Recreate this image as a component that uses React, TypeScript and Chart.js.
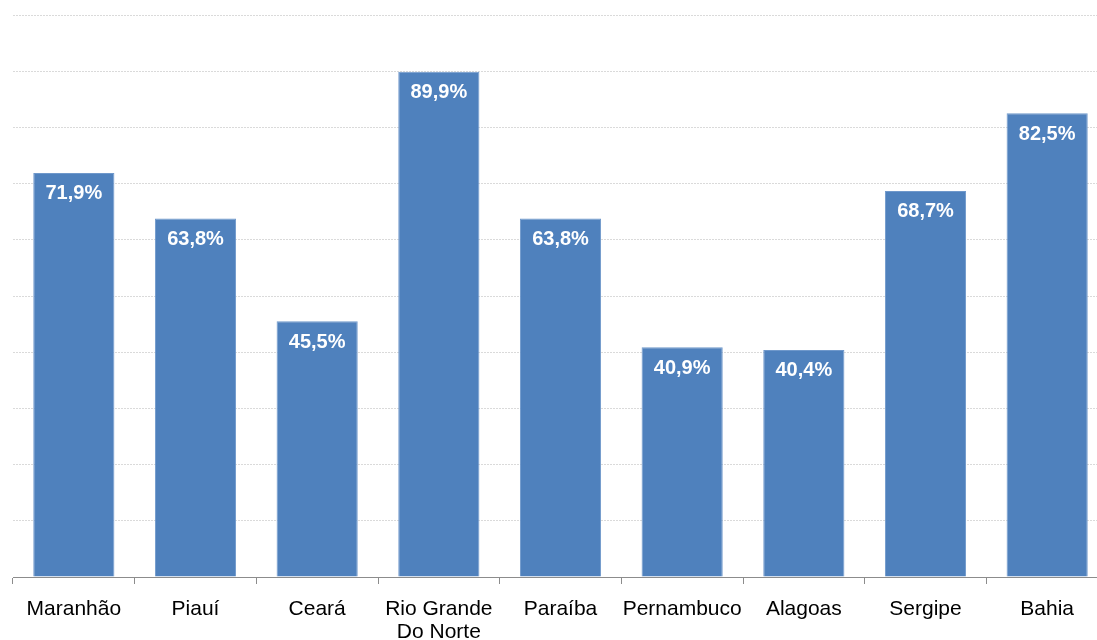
import React, { useEffect, useRef } from "react";
import { Chart, registerables } from "chart.js";

Chart.register(...registerables);

const categories: (string | string[])[] = [
  "Maranhão",
  "Piauí",
  "Ceará",
  ["Rio Grande", "Do Norte"],
  "Paraíba",
  "Pernambuco",
  "Alagoas",
  "Sergipe",
  "Bahia",
];
const values: number[] = [71.9, 63.8, 45.5, 89.9, 63.8, 40.9, 40.4, 68.7, 82.5];
const yMin = 0;
const yMax = 100;
const yStep = 10;

const valueLabels = {
  id: "valueLabels",
  afterDatasetsDraw(chart: any) {
    const ctx = chart.ctx;
    const meta = chart.getDatasetMeta(0);
    ctx.save();
    ctx.fillStyle = "#ffffff";
    ctx.font = "bold 20px 'Liberation Sans', Arial, sans-serif";
    ctx.textAlign = "center";
    ctx.textBaseline = "middle";
    meta.data.forEach((bar: any, i: number) => {
      const txt = values[i].toFixed(1).replace(".", ",") + "%";
      ctx.fillText(txt, bar.x, bar.y + 21);
    });
    ctx.restore();
  },
};

export default function App() {
  const ref = useRef<HTMLCanvasElement>(null);
  useEffect(() => {
    if (!ref.current) return;
    const chart = new Chart(ref.current, {
      type: "bar",
      data: {
        labels: categories,
        datasets: [
          {
            data: values,
            backgroundColor: "#4f81bd",
            borderColor: "#6f98cb",
            borderWidth: 1,
            categoryPercentage: 1,
            barPercentage: 0.667,
          },
        ],
      },
      options: {
        animation: false,
        responsive: false,
        maintainAspectRatio: false,
        layout: { padding: { top: 15, left: 0, right: 0, bottom: 0 } },
        plugins: {
          legend: { display: false },
          tooltip: { enabled: false },
        },
        scales: {
          x: {
            offset: true,
            grid: {
              offset: true,
              drawOnChartArea: false,
              drawTicks: true,
              tickLength: 7,
              color: "#8c8c8c",
            },
            border: { display: true, color: "#8c8c8c", width: 1 },
            ticks: {
              color: "#000000",
              padding: 14,
              maxRotation: 0,
              autoSkip: false,
              font: { family: "'Liberation Sans', Arial, sans-serif", size: 21, lineHeight: 1.1 },
            },
            afterFit(scale: any) {
              scale.height = 63;
            },
          },
          y: {
            min: yMin,
            max: yMax,
            ticks: { display: false, stepSize: yStep },
            border: { display: false, dash: [2, 1] },
            grid: {
              color: "#dadada",
              drawTicks: false,
              lineWidth: 1,
            },
            afterFit(scale: any) {
              scale.width = 13;
            },
          },
        },
      },
      plugins: [valueLabels],
    });
    return () => chart.destroy();
  }, []);
  return (
    <div
      style={{
        position: "absolute",
        left: 0,
        top: 0,
        width: 1097,
        height: 640,
        overflow: "hidden",
        background: "#fff",
      }}
    >
      <canvas ref={ref} width={1108} height={640} style={{ display: "block" }} />
    </div>
  );
}
